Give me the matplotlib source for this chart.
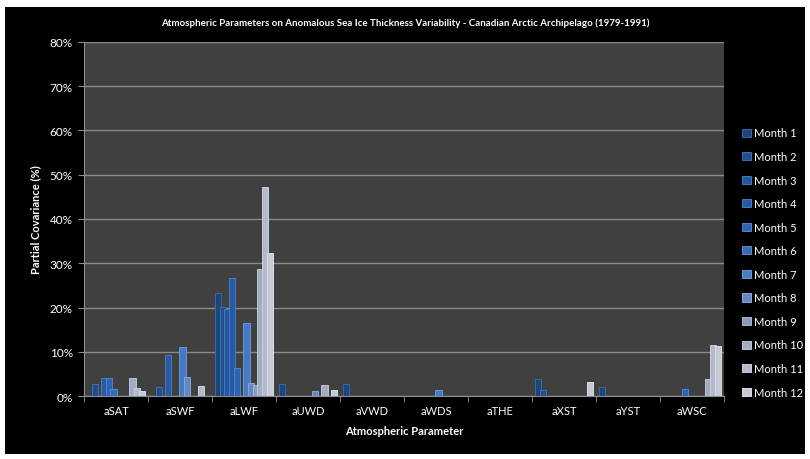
import numpy as np
import matplotlib
matplotlib.use('Agg')
import matplotlib.pyplot as plt
from matplotlib.patches import Rectangle

plt.rcParams['font.family'] = ['Lato', 'DejaVu Sans']

params = ['aSAT', 'aSWF', 'aLWF', 'aUWD', 'aVWD', 'aWDS', 'aTHE', 'aXST', 'aYST', 'aWSC']
months = ['Month %d' % i for i in range(1, 13)]

# partial covariance (%) per month, one list per month, values per parameter
m1 = [0, 0, 23.3, 2.7, 2.8, 0, 0, 3.9, 2.1, 0]
m2 = [2.7, 2.0, 20.1, 0, 0, 0, 0, 1.4, 0, 0]
m3 = [0, 0, 19.8, 0, 0, 0, 0, 0, 0, 0]
m4 = [4.1, 9.3, 26.7, 0, 0, 0, 0, 0, 0, 0]
m5 = [4.1, 0, 6.4, 0, 0, 0, 0, 0, 0, 1.6]
m6 = [1.6, 0, 0, 0, 0, 0, 0, 0, 0, 0]
m7 = [0, 11.1, 16.5, 0, 0, 1.4, 0, 0, 0, 0]
m8 = [0, 4.3, 3.0, 1.1, 0, 0, 0, 0, 0, 0]
m9 = [0, 0, 2.5, 0, 0, 0, 0, 0, 0, 0]
m10 = [4.1, 0, 28.8, 2.5, 0, 0, 0, 0, 0, 3.9]
m11 = [1.8, 2.3, 47.2, 0, 0, 0, 0, 0, 0, 11.6]
m12 = [1.2, 0, 32.3, 1.4, 0, 0, 0, 3.2, 0, 11.4]
values = [m1, m2, m3, m4, m5, m6, m7, m8, m9, m10, m11, m12]

colors = ['#1d4578', '#214f8e', '#25569c', '#285aa4', '#2f62b0', '#3669b8',
          '#477ac4', '#6688c0', '#8a9abe', '#a2acc4', '#b4bacb', '#c6cad4']
edges = ['#3a68a8', '#3f70b4', '#4577be', '#4a7cc4', '#5284cc', '#5a8ad2',
         '#6c98d8', '#8aa4d4', '#a8b4d0', '#bcc4d6', '#ccd0dc', '#dadde4']

fig = plt.figure(figsize=(8.1, 4.6), dpi=100, facecolor='white')
fig.patches.append(Rectangle((5/810, 5/460), 800/810, 447/460, transform=fig.transFigure,
                             facecolor='black', edgecolor='none', zorder=-10))

ax = fig.add_axes([84/810, 1-397.3/460, 640/810, 354.6/460])
ax.set_facecolor('#404040')

x = np.arange(len(params))
step = 0.0734
width = 0.1
for i in range(12):
    off = (i - 5.5) * step
    ax.bar(x + off, values[i], width=width, color=colors[i], edgecolor=edges[i],
           linewidth=0.7, label=months[i], zorder=3 + i)

ax.set_xlim(-0.5, 9.5)
ax.set_ylim(0, 80)
ax.set_yticks(np.arange(0, 81, 10))
ax.set_yticklabels(['%d%%' % v for v in range(0, 81, 10)])
ax.set_xticks(x)
ax.set_xticklabels(params)
ax.set_xticks(np.arange(-0.5, 10, 1), minor=True)
ax.tick_params(axis='x', which='major', length=0, colors='white', labelsize=8, pad=6)
ax.tick_params(axis='x', which='minor', length=4, color='#909090')
ax.tick_params(axis='y', colors='white', labelsize=8.5, length=4, pad=4)
ax.tick_params(axis='y', color='#909090')
ax.grid(axis='y', color='#8a8a8a', linewidth=1, zorder=1)
for s in ['top', 'right']:
    ax.spines[s].set_visible(False)
ax.spines['left'].set_color('#909090')
ax.spines['bottom'].set_color('#909090')

ax.set_xlabel('Atmospheric Parameter', color='white', fontsize=8, fontweight='bold', labelpad=7)
ax.set_ylabel('Partial Covariance (%)', color='white', fontsize=8, fontweight='bold', labelpad=6)
fig.text(0.5, 1-23/460, 'Atmospheric Parameters on Anomalous Sea Ice Thickness Variability - Canadian Arctic Archipelago (1979-1991)',
         color='white', fontsize=7, fontweight='bold', ha='center', va='center')

leg = ax.legend(loc='upper left', bbox_to_anchor=(738/810, 1-124/460), bbox_transform=fig.transFigure,
                frameon=False, labelcolor='white', fontsize=8, handlelength=0.75, handleheight=0.75,
                handletextpad=0.3, labelspacing=1.13, borderaxespad=0)

fig.savefig('out.png', dpi=100, facecolor=fig.get_facecolor())
